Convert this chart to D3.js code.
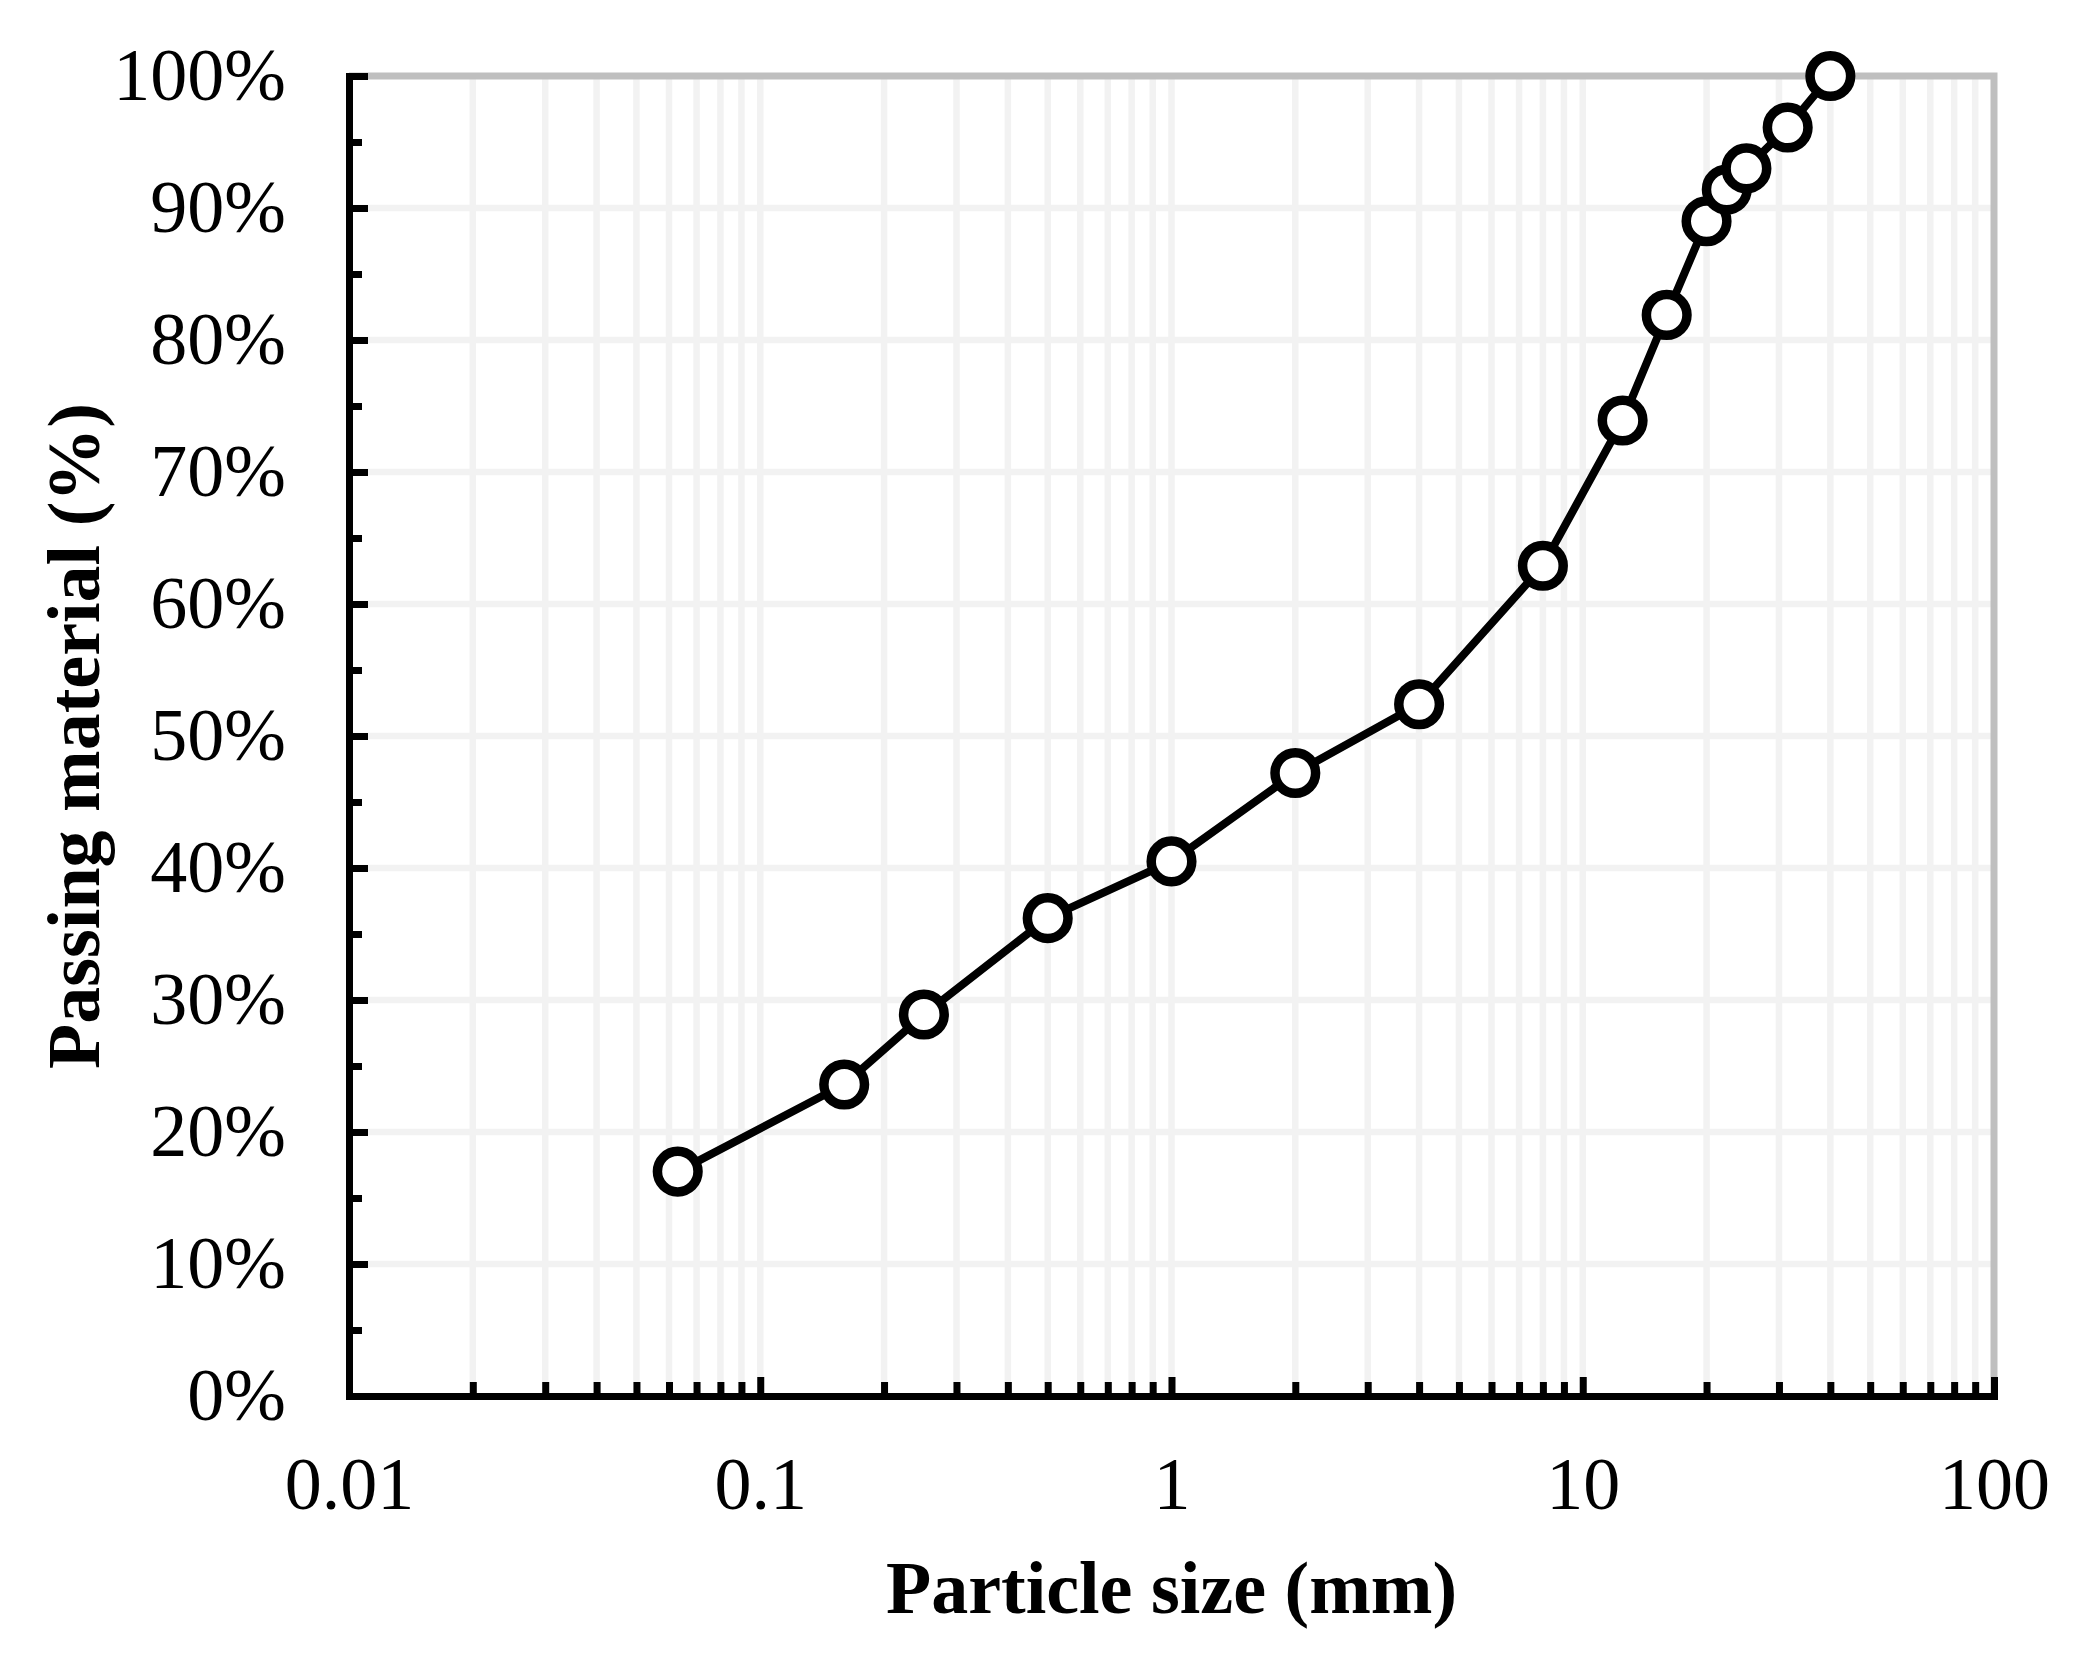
<!DOCTYPE html>
<html>
<head>
<meta charset="utf-8">
<script src="https://cdn.jsdelivr.net/npm/d3@7"></script>
<style>
  body { margin: 0; background: #fff; }
  text { font-family: "Times New Roman", "Liberation Serif", serif; fill: #000; }
</style>
</head>
<body>
<script>
// particle size distribution
var sizes   = [0.063, 0.16, 0.25, 0.5, 1, 2, 4, 8, 12.5, 16, 20, 22.4, 25, 31.5, 40];
var passing = [0.170, 0.236, 0.289, 0.362, 0.405, 0.472, 0.524, 0.629, 0.739, 0.819, 0.890, 0.914, 0.930, 0.961, 1.0];

var xTicks = [0.01, 0.1, 1, 10, 100];
var xTickLabels = ["0.01", "0.1", "1", "10", "100"];
var yTicks = [0, 0.1, 0.2, 0.3, 0.4, 0.5, 0.6, 0.7, 0.8, 0.9, 1.0];

var width = 2085,
    height = 1656;

var mLeft = 349, mRight = 1994, mTop = 76, mBottom = 1396;

var svg = d3.select('body')
  .append('svg')
  .attr('width', width)
  .attr('height', height);

var x = d3.scaleLog().domain([0.01, 100]).range([mLeft, mRight]);
var y = d3.scaleLinear().domain([0, 1]).range([mBottom, mTop]);

// minor values on log axis: 2..9 in each decade
var minorX = [];
for (var d = 0.01; d < 99; d *= 10) {
  for (var k = 2; k <= 9; k++) minorX.push(+(d * k).toPrecision(3));
}
var minorY = [0.05, 0.15, 0.25, 0.35, 0.45, 0.55, 0.65, 0.75, 0.85, 0.95];

// grid
var grid = svg.append('g');
grid.selectAll('line.v')
  .data(minorX.concat([0.1, 1, 10]))
  .enter().append('line')
  .attr('x1', d => x(d)).attr('x2', d => x(d))
  .attr('y1', mTop).attr('y2', mBottom)
  .attr('stroke', '#f2f2f2').attr('stroke-width', 6.5);
grid.selectAll('line.h')
  .data(yTicks.slice(1, -1))
  .enter().append('line')
  .attr('x1', mLeft).attr('x2', mRight)
  .attr('y1', d => y(d)).attr('y2', d => y(d))
  .attr('stroke', '#f2f2f2').attr('stroke-width', 6.5);

// top + right border (gray)
svg.append('path')
  .attr('d', 'M' + mLeft + ',' + mTop + 'H' + mRight + 'V' + mBottom)
  .attr('fill', 'none')
  .attr('stroke', '#bfbfbf')
  .attr('stroke-width', 7);

// x axis
var xAxis = svg.append('g')
  .attr('transform', 'translate(0,' + mBottom + ')')
  .call(d3.axisBottom(x).tickValues(xTicks).tickFormat((d, i) => xTickLabels[i])
    .tickSizeInner(-19).tickSizeOuter(0).tickPadding(60));
var xMinor = svg.append('g')
  .attr('transform', 'translate(0,' + mBottom + ')')
  .call(d3.axisBottom(x).tickValues(minorX).tickFormat('')
    .tickSizeInner(-14).tickSizeOuter(0));
xMinor.select('.domain').remove();

// y axis
var yAxis = svg.append('g')
  .attr('transform', 'translate(' + mLeft + ',0)')
  .call(d3.axisLeft(y).tickValues(yTicks).tickFormat(d3.format('.0%'))
    .tickSizeInner(-19).tickSizeOuter(0).tickPadding(63));
var yMinor = svg.append('g')
  .attr('transform', 'translate(' + mLeft + ',0)')
  .call(d3.axisLeft(y).tickValues(minorY).tickFormat('')
    .tickSizeInner(-13).tickSizeOuter(0));
yMinor.select('.domain').remove();

svg.selectAll('.domain').attr('stroke', '#000').attr('stroke-width', 7).attr('stroke-linecap', 'square');
svg.selectAll('.tick line').attr('stroke', '#000').attr('stroke-width', 7);
svg.selectAll('.tick text')
  .style('font-family', '"Times New Roman", "Liberation Serif", serif')
  .style('font-size', '74px')
  .attr('fill', '#000');

// data line
var pts = sizes.map((s, i) => [s, passing[i]]);
svg.append('path')
  .datum(pts)
  .attr('fill', 'none')
  .attr('stroke', '#000')
  .attr('stroke-width', 8)
  .attr('d', d3.line().x(d => x(d[0])).y(d => y(d[1])));

svg.append('g').selectAll('circle')
  .data(pts)
  .enter().append('circle')
  .attr('cx', d => x(d[0]))
  .attr('cy', d => y(d[1]))
  .attr('r', 20.3)
  .attr('fill', '#fff')
  .attr('stroke', '#000')
  .attr('stroke-width', 9.5);

// axis titles
svg.append('text')
  .attr('x', (mLeft + mRight) / 2)
  .attr('y', 1613)
  .attr('text-anchor', 'middle')
  .style('font-size', '74px')
  .style('font-weight', 'bold')
  .text('Particle size (mm)');

svg.append('text')
  .attr('transform', 'translate(99,' + (mTop + mBottom) / 2 + ') rotate(-90)')
  .attr('text-anchor', 'middle')
  .style('font-size', '74px')
  .style('font-weight', 'bold')
  .text('Passing material (%)');
</script>
</body>
</html>
